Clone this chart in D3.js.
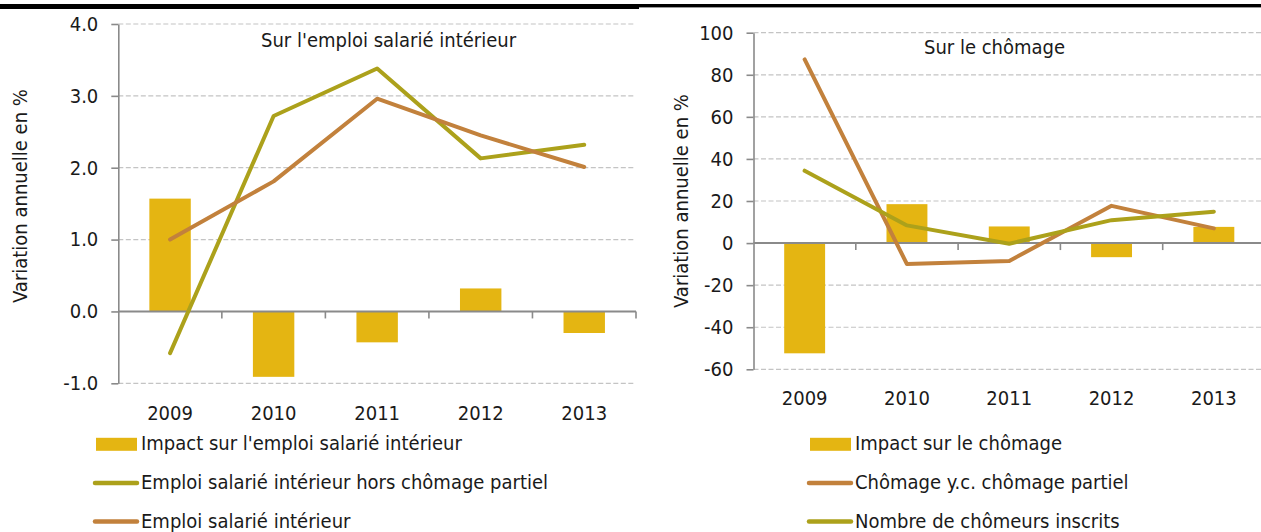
<!DOCTYPE html>
<html>
<head>
<meta charset="utf-8">
<script src="https://cdn.jsdelivr.net/npm/d3@7/dist/d3.min.js"></script>
<style>
  html, body { margin: 0; padding: 0; background: #fff; }
  svg { display: block; }
  text {
    font-family: "DejaVu Sans Condensed", "DejaVu Sans", sans-serif;
    font-stretch: condensed;
    fill: #1a1a1a;
  }
</style>
</head>
<body>
<svg id="chart" width="1261" height="532"></svg>
<script>
// Years shown on both panels
const years = ["2009", "2010", "2011", "2012", "2013"];

// Panel 1: employment (annual change, %)
const empImpact = [1.57, -0.91, -0.43, 0.32, -0.30];
const empExclPartial = [-0.58, 2.72, 3.38, 2.13, 2.32];
const empTotal = [1.00, 1.81, 2.96, 2.45, 2.01];
const empTicks = [4, 3, 2, 1, 0, -1];
const empTickLabels = ["4.0", "3.0", "2.0", "1.0", "0.0", "-1.0"];

// Panel 2: unemployment (annual change, %)
const unempImpact = [-52.4, 18.5, 7.9, -6.7, 7.7];
const unempInclPartial = [87.3, -10.0, -8.5, 17.7, 7.0];
const unempRegistered = [34.4, 8.4, -0.3, 10.9, 14.9];
const unempTicks = [100, 80, 60, 40, 20, 0, -20, -40, -60];
const unempTickLabels = ["100", "80", "60", "40", "20", "0", "-20", "-40", "-60"];

const COL_BAR = "#e4b512";
const COL_GREEN = "#aca11b";
const COL_BROWN = "#c2813c";
const COL_AXIS = "#8a8a8a";
const COL_GRID = "#c4c4c4";

const svg = d3.select("#chart");

// Header rules above each panel
svg.append("rect").attr("x", 0).attr("y", 4).attr("width", 639).attr("height", 5).attr("fill", "#000");
svg.append("rect").attr("x", 639).attr("y", 4).attr("width", 622).attr("height", 3.4).attr("fill", "#000");

function panel(cfg) {
  const g = svg.append("g");
  const x = d3.scaleBand().domain(years).range([cfg.x0, cfg.x1]).padding(0);
  const y = d3.scaleLinear().domain(cfg.domain).range(cfg.yRange);
  const bw = x.bandwidth();

  // dashed gridlines
  g.selectAll("line.grid")
    .data(cfg.ticks.filter(d => d !== 0))
    .join("line")
    .attr("x1", cfg.x0).attr("x2", cfg.gridEnd)
    .attr("y1", d => y(d)).attr("y2", d => y(d))
    .attr("stroke", COL_GRID).attr("stroke-width", 1.2)
    .attr("stroke-dasharray", "5,2.5");

  // bars
  g.selectAll("rect.bar")
    .data(cfg.bars)
    .join("rect")
    .attr("x", (d, i) => x(years[i]) + bw * 0.3)
    .attr("width", bw * 0.4)
    .attr("y", d => Math.min(y(d), y(0)))
    .attr("height", d => Math.abs(y(d) - y(0)))
    .attr("fill", COL_BAR);

  // y axis
  const yAxis = d3.axisLeft(y)
    .tickValues(cfg.ticks)
    .tickFormat((d, i) => cfg.tickLabels[i])
    .tickSize(7)
    .tickSizeOuter(0)
    .tickPadding(13);
  const ya = g.append("g").attr("transform", `translate(${cfg.x0},0)`).call(yAxis);
  ya.select(".domain").attr("stroke", COL_AXIS).attr("stroke-width", 1.6);
  ya.selectAll(".tick line").attr("stroke", COL_AXIS).attr("stroke-width", 1.6);
  ya.selectAll(".tick text").style("font-size", "20px").attr("fill", "#1a1a1a");

  // zero line with category boundary ticks
  g.append("line")
    .attr("x1", cfg.x0).attr("x2", cfg.zeroEnd)
    .attr("y1", y(0)).attr("y2", y(0))
    .attr("stroke", COL_AXIS).attr("stroke-width", 2);
  g.selectAll("line.xtick")
    .data(years)
    .join("line")
    .attr("x1", d => x(d) + bw).attr("x2", d => x(d) + bw)
    .attr("y1", y(0)).attr("y2", y(0) + 7)
    .attr("stroke", COL_AXIS).attr("stroke-width", 1.6);

  // category labels
  g.selectAll("text.cat")
    .data(years)
    .join("text")
    .attr("x", d => x(d) + bw / 2)
    .attr("y", cfg.catY)
    .attr("text-anchor", "middle")
    .style("font-size", "20px")
    .text(d => d);

  // lines
  const line = d3.line()
    .x((d, i) => x(years[i]) + bw / 2)
    .y(d => y(d));
  cfg.lines.forEach(s => {
    g.append("path")
      .datum(s.values)
      .attr("d", line)
      .attr("fill", "none")
      .attr("stroke", s.color)
      .attr("stroke-width", 4)
      .attr("stroke-linejoin", "round")
      .attr("stroke-linecap", "round");
  });

  // panel title
  g.append("text")
    .attr("x", cfg.titleX).attr("y", cfg.titleY)
    .style("font-size", "20px")
    .text(cfg.title);

  // y axis title
  g.append("text")
    .attr("transform", `translate(${cfg.yTitleX},${cfg.yTitleY}) rotate(-90)`)
    .attr("text-anchor", "middle")
    .style("font-size", "20px")
    .text("Variation annuelle en %");

  // legend
  const lg = g.append("g");
  cfg.legend.forEach((item, i) => {
    const cy = 444.3 + i * 38.6;
    if (item.type === "bar") {
      lg.append("rect")
        .attr("x", cfg.legX).attr("y", cy - 6.5)
        .attr("width", 41).attr("height", 13)
        .attr("fill", item.color);
    } else {
      lg.append("line")
        .attr("x1", cfg.legX - 1).attr("x2", cfg.legX + 41)
        .attr("y1", cy).attr("y2", cy)
        .attr("stroke", item.color).attr("stroke-width", 4.5)
        .attr("stroke-linecap", "round");
    }
    lg.append("text")
      .attr("x", cfg.legX + 45).attr("y", cy + 6)
      .style("font-size", "20px")
      .text(item.label);
  });
}

panel({
  x0: 118.3, x1: 636, gridEnd: 635, zeroEnd: 636,
  domain: [-1, 4], yRange: [383.3, 24],
  ticks: empTicks, tickLabels: empTickLabels,
  bars: empImpact,
  lines: [
    { values: empExclPartial, color: COL_GREEN },
    { values: empTotal, color: COL_BROWN }
  ],
  catY: 420,
  title: "Sur l'emploi salarié intérieur", titleX: 261, titleY: 47,
  yTitleX: 27, yTitleY: 196,
  legX: 96,
  legend: [
    { type: "bar", color: COL_BAR, label: "Impact sur l'emploi salarié intérieur" },
    { type: "line", color: COL_GREEN, label: "Emploi salarié intérieur hors chômage partiel" },
    { type: "line", color: COL_BROWN, label: "Emploi salarié intérieur" }
  ]
});

panel({
  x0: 753.5, x1: 1265, gridEnd: 1261, zeroEnd: 1261,
  domain: [-60, 100], yRange: [369.3, 32.7],
  ticks: unempTicks, tickLabels: unempTickLabels,
  bars: unempImpact,
  lines: [
    { values: unempInclPartial, color: COL_BROWN },
    { values: unempRegistered, color: COL_GREEN }
  ],
  catY: 404.5,
  title: "Sur le chômage", titleX: 924, titleY: 54,
  yTitleX: 688, yTitleY: 201,
  legX: 810,
  legend: [
    { type: "bar", color: COL_BAR, label: "Impact sur le chômage" },
    { type: "line", color: COL_BROWN, label: "Chômage y.c. chômage partiel" },
    { type: "line", color: COL_GREEN, label: "Nombre de chômeurs inscrits" }
  ]
});
</script>
</body>
</html>
